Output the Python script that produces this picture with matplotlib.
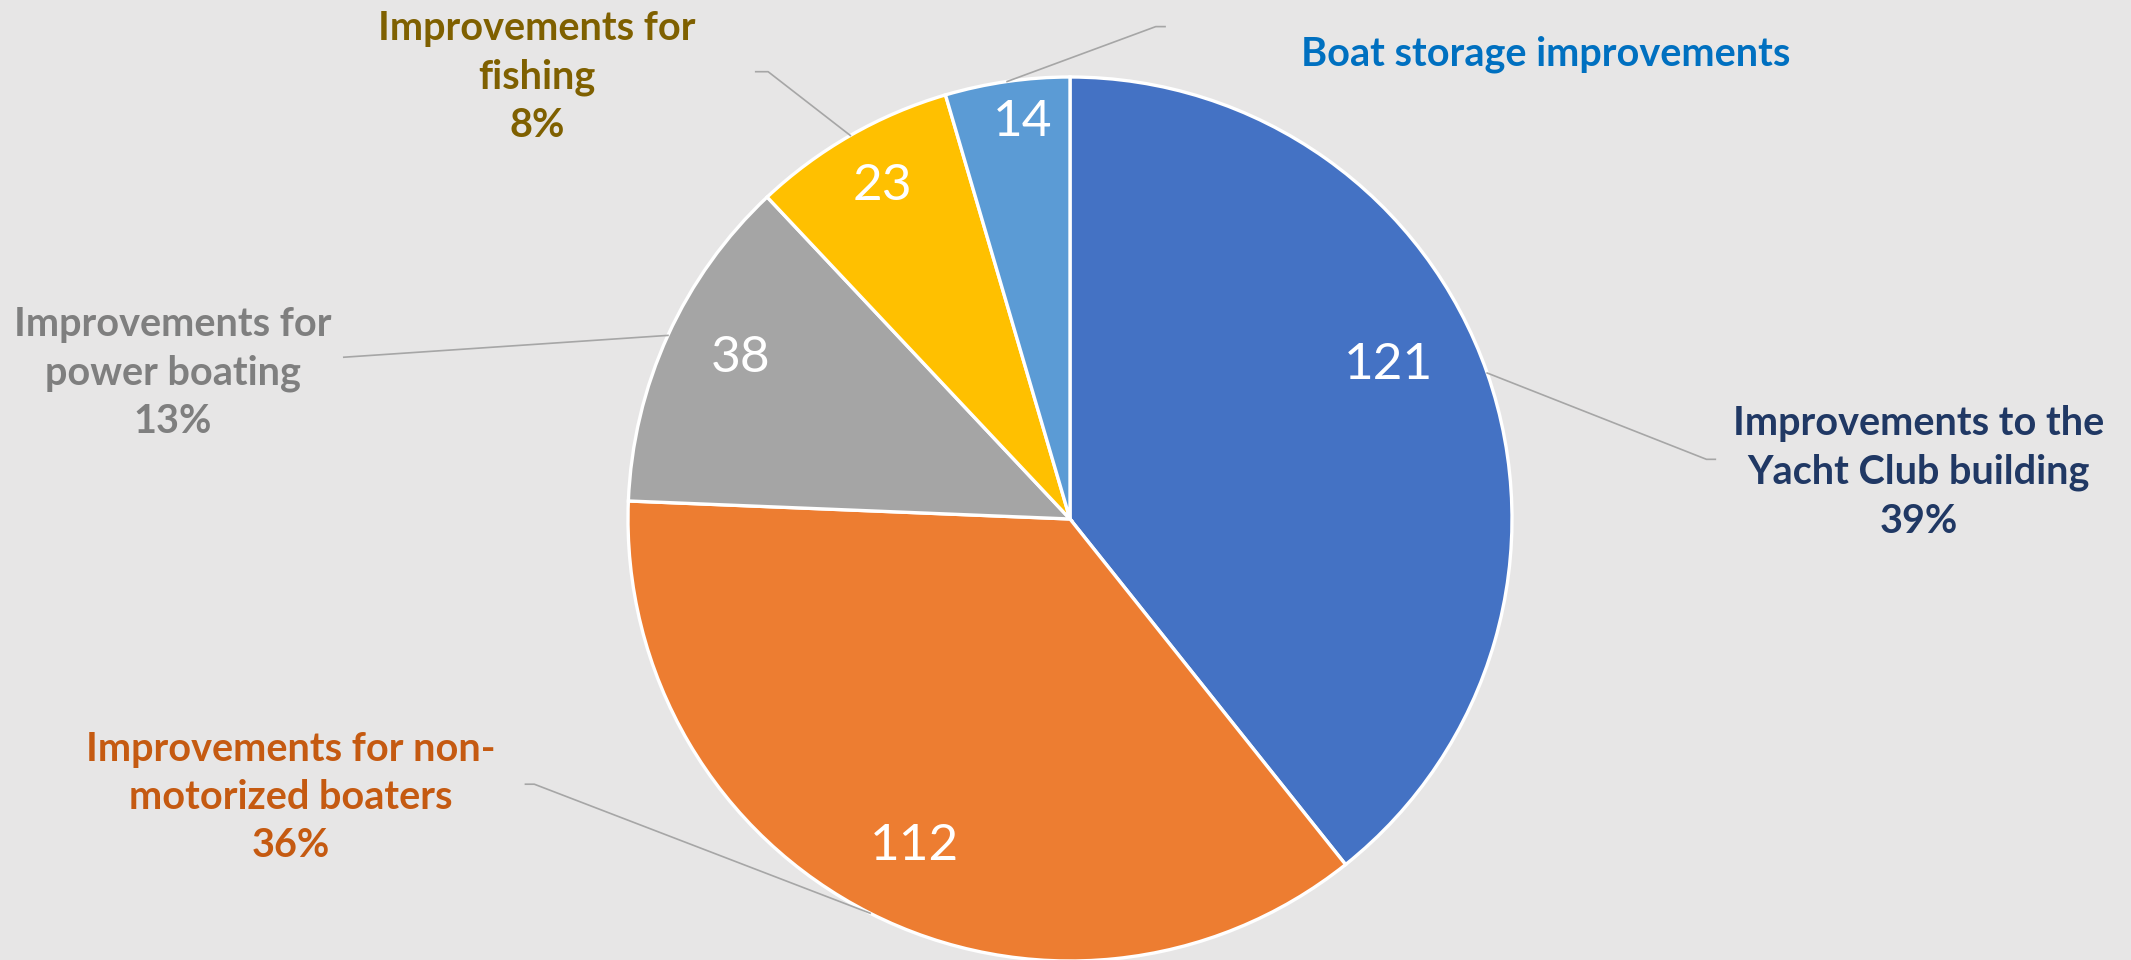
import numpy as np
from matplotlib import pyplot as plt

categories = ["Improvements to the\nYacht Club building",
              "Improvements for non-\nmotorized boaters",
              "Improvements for\npower boating",
              "Improvements for\nfishing",
              "Boat storage improvements"]
counts = [121, 112, 38, 23, 14]
percent_labels = ["39%", "36%", "13%", "8%", ""]

colors = ["#4472C4", "#ED7D31", "#A5A5A5", "#FFC000", "#5B9BD5"]
text_colors = ["#203864", "#C55A11", "#7F7F7F", "#7F6000", "#0070C0"]
bg = "#E7E6E6"

# where the outside labels sit (data units, pie radius = 1)
label_pos = [(1.92, 0.105), (-1.763, -0.63), (-2.03, 0.33), (-1.206, 1.0), (1.077, 1.052)]
# leader line: end near the text, plus small horizontal tick
leader_end = [(1.44, 0.135), (-1.212, -0.60), (-1.643, 0.366), (-0.683, 1.012), (0.194, 1.114)]
leader_tick = [0.02, -0.02, 0.0, -0.028, 0.021]
# inside number tweaks (radius, angle offset in degrees)
num_r = [0.80, 0.82, 0.83, 0.865, 0.905]
num_da = [6.5, 1.5, -1.5, -0.5, -1.4]

fig = plt.figure(figsize=(21.31, 9.6), dpi=100)
fig.patch.set_facecolor(bg)
ax = fig.add_axes([0, 0, 1, 1])
ax.set_facecolor(bg)

wedges, _ = ax.pie(counts, colors=colors, startangle=90, counterclock=False,
                   radius=1.0, wedgeprops=dict(edgecolor="white", linewidth=2.4))

for i, w in enumerate(wedges):
    mid = np.deg2rad((w.theta1 + w.theta2) / 2)
    a = mid + np.deg2rad(num_da[i])
    ax.text(num_r[i] * np.cos(a), num_r[i] * np.sin(a), str(counts[i]),
            ha="center", va="center", color="white", fontsize=37, family="Lato")

    # leader line from wedge edge
    x0, y0 = np.cos(mid), np.sin(mid)
    x1, y1 = leader_end[i]
    ax.plot([x0, x1, x1 + leader_tick[i]], [y0, y1, y1], color="#A6A6A6", lw=1.2)

    txt = categories[i]
    if percent_labels[i]:
        txt = txt + "\n" + percent_labels[i]
    ax.text(label_pos[i][0], label_pos[i][1], txt, ha="center", va="center",
            color=text_colors[i], fontsize=28.5, fontweight="bold", family="Lato",
            linespacing=1.38)

ax.set_aspect("equal")
ax.set_xlim(-1070 / 442, (2131 - 1070) / 442)
ax.set_ylim(-(960 - 519) / 442, 519 / 442)
ax.axis("off")

fig.savefig("out.png", dpi=100, facecolor=bg)
